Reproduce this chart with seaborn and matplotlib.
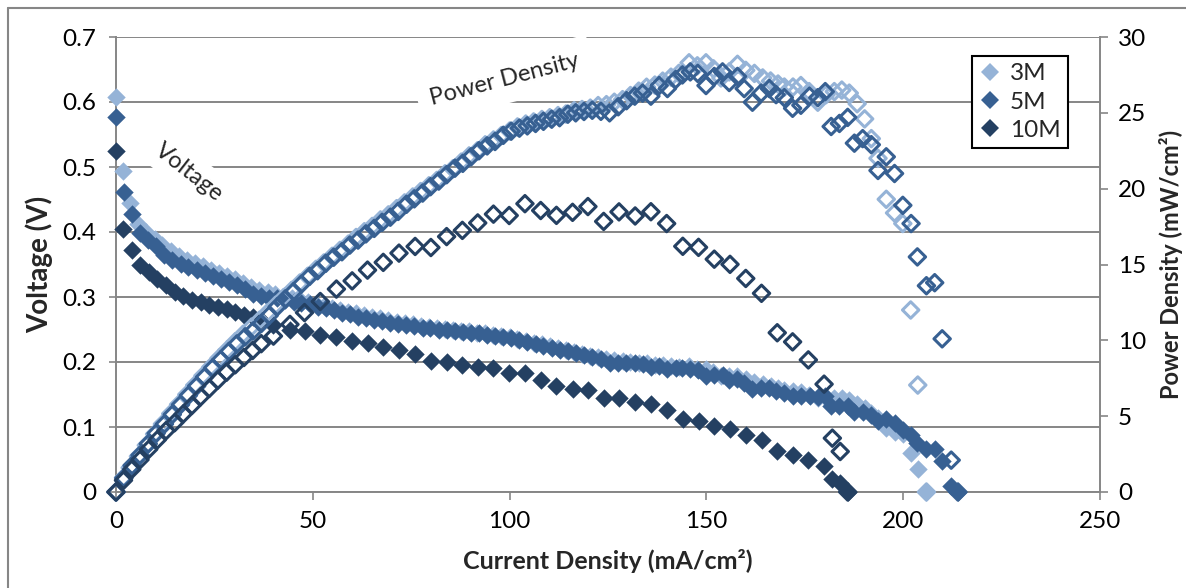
import numpy as np
import pandas as pd
import matplotlib
matplotlib.use("Agg")
import matplotlib.pyplot as plt
import seaborn as sns
from matplotlib.lines import Line2D

sns.set_theme(style="white")
plt.rcParams["font.family"] = ["Lato", "DejaVu Sans"]

# ---------------- data ----------------
series_names = ["3M", "5M", "10M"]

cur_3m = [0.0, 1.9, 3.6, 5.7, 7.7, 9.8, 11.8, 13.9, 15.9, 18.0, 20.0, 22.1, 24.1, 26.2, 28.2, 30.3, 32.3, 34.4,
          36.4, 38.5, 40.5, 42.6, 44.6, 46.7, 48.7, 50.8, 52.8, 54.9, 56.9, 59.0, 61.0, 63.1, 65.1, 67.2, 69.2,
          71.3, 73.3, 75.4, 77.4, 79.5, 81.5, 83.6, 85.6, 87.7, 89.7, 91.8, 93.8, 95.9, 97.9, 100.0, 102.0,
          104.1, 106.1, 108.2, 110.2, 112.3, 114.3, 116.4, 118.4, 120.5, 122.5, 124.6, 126.6, 128.7, 130.7,
          132.8, 134.8, 136.9, 138.9, 141.0, 143.0, 145.6, 147.7, 149.9, 151.8, 153.7, 155.8, 157.9, 160.0,
          162.2, 164.3, 166.3, 168.2, 169.8, 172.0, 174.0, 176.1, 178.3, 180.4, 182.5, 184.4, 186.3, 188.3,
          190.2, 191.9, 193.6, 195.7, 197.8, 199.9, 201.9, 203.7, 205.9]
volt_3m = [0.607, 0.494, 0.444, 0.412, 0.400, 0.390, 0.380, 0.371, 0.363, 0.357, 0.352, 0.347, 0.342, 0.337,
           0.332, 0.327, 0.322, 0.316, 0.311, 0.307, 0.304, 0.301, 0.298, 0.295, 0.292, 0.289, 0.286, 0.283,
           0.280, 0.277, 0.275, 0.272, 0.269, 0.267, 0.264, 0.262, 0.260, 0.258, 0.256, 0.254, 0.252, 0.251,
           0.249, 0.248, 0.247, 0.245, 0.244, 0.242, 0.240, 0.238, 0.236, 0.233, 0.230, 0.227, 0.224, 0.221,
           0.218, 0.216, 0.213, 0.210, 0.208, 0.205, 0.203, 0.201, 0.200, 0.199, 0.198, 0.196, 0.195, 0.194,
           0.193, 0.194, 0.190, 0.189, 0.184, 0.178, 0.178, 0.179, 0.174, 0.170, 0.166, 0.163, 0.160, 0.157,
           0.155, 0.154, 0.150, 0.144, 0.145, 0.145, 0.144, 0.141, 0.136, 0.129, 0.121, 0.114, 0.099, 0.093,
           0.089, 0.060, 0.035, 0.0]
pow_3m = [0.0, 0.94, 1.60, 2.35, 3.08, 3.82, 4.48, 5.16, 5.77, 6.43, 7.04, 7.67, 8.24, 8.83, 9.36, 9.91, 10.40,
          10.87, 11.32, 11.82, 12.31, 12.82, 13.29, 13.78, 14.22, 14.68, 15.10, 15.54, 15.93, 16.34, 16.78,
          17.16, 17.51, 17.94, 18.27, 18.68, 19.06, 19.45, 19.81, 20.19, 20.54, 20.98, 21.31, 21.75, 22.16,
          22.49, 22.89, 23.21, 23.50, 23.80, 24.07, 24.26, 24.40, 24.56, 24.68, 24.82, 24.92, 25.14, 25.22,
          25.31, 25.48, 25.54, 25.70, 25.87, 26.14, 26.43, 26.69, 26.83, 27.09, 27.35, 27.60, 28.3, 28.1, 28.3,
          27.9, 27.3, 27.7, 28.2, 27.8, 27.6, 27.3, 27.1, 26.9, 26.7, 26.7, 26.8, 26.4, 25.7, 26.2, 26.4, 26.5,
          26.3, 25.6, 24.6, 23.3, 22.0, 19.3, 18.4, 17.7, 12.0, 7.05, 0.0]

cur_5m = [0.0, 2.0, 4.1, 6.1, 8.2, 10.2, 12.3, 14.3, 16.4, 18.4, 20.5, 22.5, 24.6, 26.6, 28.7, 30.7, 32.8, 34.8,
          36.9, 38.9, 41.0, 43.0, 45.1, 47.1, 49.2, 51.2, 53.3, 55.3, 57.4, 59.4, 61.5, 63.5, 65.6, 67.6, 69.7,
          71.7, 73.8, 75.8, 77.9, 79.9, 82.0, 84.0, 86.1, 88.1, 90.2, 92.2, 94.3, 96.3, 98.4, 100.4, 102.5,
          104.5, 106.6, 108.6, 110.7, 112.7, 114.8, 116.8, 118.9, 121.0, 123.2, 125.4, 127.6, 129.7, 131.8,
          133.8, 135.9, 138.0, 140.1, 142.2, 143.9, 145.9, 147.8, 149.9, 152.0, 154.1, 155.8, 157.9, 159.6,
          161.7, 163.9, 166.0, 167.7, 169.8, 171.9, 174.0, 176.2, 178.3, 180.2, 181.7, 183.8, 185.9, 187.6,
          189.7, 191.9, 193.6, 195.7, 197.8, 199.9, 202.0, 203.6, 205.9, 208.0, 209.9, 212.2, 213.9]
volt_5m = [0.577, 0.462, 0.427, 0.399, 0.388, 0.379, 0.364, 0.357, 0.351, 0.346, 0.341, 0.337, 0.333, 0.328,
           0.323, 0.318, 0.312, 0.305, 0.301, 0.299, 0.298, 0.296, 0.293, 0.291, 0.289, 0.285, 0.283, 0.280,
           0.276, 0.274, 0.270, 0.268, 0.265, 0.263, 0.260, 0.258, 0.257, 0.255, 0.253, 0.252, 0.250, 0.249,
           0.248, 0.246, 0.245, 0.244, 0.242, 0.240, 0.239, 0.237, 0.234, 0.231, 0.228, 0.225, 0.222, 0.219,
           0.217, 0.214, 0.211, 0.208, 0.204, 0.199, 0.199, 0.199, 0.198, 0.197, 0.192, 0.194, 0.190, 0.191,
           0.191, 0.190, 0.187, 0.179, 0.180, 0.180, 0.173, 0.174, 0.167, 0.159, 0.160, 0.160, 0.156, 0.153,
           0.147, 0.147, 0.148, 0.146, 0.147, 0.133, 0.132, 0.133, 0.123, 0.123, 0.119, 0.110, 0.113, 0.106,
           0.095, 0.088, 0.076, 0.066, 0.066, 0.048, 0.010, 0.0]
pow_5m = [0.0, 0.92, 1.75, 2.43, 3.18, 3.87, 4.48, 5.11, 5.76, 6.37, 6.99, 7.58, 8.19, 8.72, 9.27, 9.76, 10.23,
          10.61, 11.11, 11.63, 12.22, 12.73, 13.21, 13.71, 14.22, 14.59, 15.08, 15.48, 15.84, 16.28, 16.61,
          17.02, 17.38, 17.78, 18.12, 18.50, 18.97, 19.33, 19.71, 20.13, 20.50, 20.92, 21.35, 21.67, 22.10,
          22.50, 22.82, 23.11, 23.52, 23.79, 23.99, 24.14, 24.30, 24.44, 24.58, 24.68, 24.91, 25.00, 25.09,
          25.17, 25.1, 25.0, 25.4, 25.8, 26.1, 26.3, 26.1, 26.8, 26.6, 27.2, 27.5, 27.7, 27.6, 26.8, 27.4, 27.7,
          27.0, 27.4, 26.6, 25.7, 26.3, 26.6, 26.2, 26.0, 25.3, 25.5, 26.1, 26.0, 26.4, 24.1, 24.3, 24.7, 23.0,
          23.3, 22.9, 21.2, 22.1, 21.0, 18.9, 17.7, 15.5, 13.6, 13.8, 10.1, 2.1, 0.0]

cur_10m = [0.0, 1.9, 4.0, 6.1, 8.3, 10.5, 12.7, 14.9, 17.1, 19.3, 21.5, 23.7, 25.9, 28.1, 30.3, 32.5, 34.7,
           36.9, 40.0, 44.2, 47.9, 51.9, 56.0, 60.0, 63.9, 67.9, 71.9, 76.0, 80.0, 84.0, 88.0, 91.9, 95.9, 99.9,
           103.9, 107.9, 111.9, 116.0, 119.9, 123.9, 127.8, 131.9, 135.9, 139.9, 144.0, 148.0, 152.0, 156.0,
           160.0, 164.0, 168.0, 171.9, 175.9, 179.9, 182.0, 184.0, 185.9]
volt_10m = [0.524, 0.404, 0.372, 0.349, 0.338, 0.328, 0.318, 0.307, 0.301, 0.296, 0.292, 0.288, 0.285, 0.281,
            0.277, 0.273, 0.269, 0.265, 0.257, 0.250, 0.247, 0.242, 0.239, 0.232, 0.229, 0.223, 0.219, 0.213,
            0.2015, 0.2005, 0.196, 0.193, 0.191, 0.1825, 0.183, 0.172, 0.163, 0.159, 0.157, 0.144, 0.1445,
            0.138, 0.136, 0.1265, 0.1125, 0.109, 0.101, 0.0962, 0.088, 0.0799, 0.0625, 0.0576, 0.0495, 0.0395,
            0.0195, 0.0145, 0.0]
pow_10m = [0.0, 0.77, 1.49, 2.13, 2.81, 3.44, 4.04, 4.57, 5.15, 5.71, 6.28, 6.83, 7.38, 7.90, 8.39, 8.87, 9.33,
           9.78, 10.28, 11.05, 11.83, 12.56, 13.38, 13.92, 14.63, 15.14, 15.75, 16.19, 16.12, 16.84, 17.25,
           17.74, 18.32, 18.23, 19.01, 18.56, 18.24, 18.44, 18.82, 17.84, 18.47, 18.20, 18.48, 17.70, 16.20,
           16.13, 15.35, 15.01, 14.08, 13.10, 10.50, 9.90, 8.71, 7.11, 3.55, 2.67, 0.0]

x_ticks = [0, 50, 100, 150, 200, 250]
y_ticks = [0, 0.1, 0.2, 0.3, 0.4, 0.5, 0.6, 0.7]
y_tick_labels = ["0", "0.1", "0.2", "0.3", "0.4", "0.5", "0.6", "0.7"]
y2_ticks = [0, 5, 10, 15, 20, 25, 30]

colors = {"3M": "#95B3D7", "5M": "#376092", "10M": "#244062"}

frames = []
for name, c, v, p in [("3M", cur_3m, volt_3m, pow_3m),
                      ("5M", cur_5m, volt_5m, pow_5m),
                      ("10M", cur_10m, volt_10m, pow_10m)]:
    frames.append(pd.DataFrame({"conc": name, "current": c, "voltage": v, "power": p}))
df = pd.concat(frames, ignore_index=True)

# ---------------- figure ----------------
W, H = 1186, 588
fig = plt.figure(figsize=(W / 100, H / 100), dpi=100)
fig.patch.set_facecolor("white")
ax = fig.add_axes([116 / W, 1 - 492 / H, 984 / W, 455 / H])
ax2 = ax.twinx()

grey = "#868686"
TICK_FS = 17.5

for name in series_names:
    sub = df[df["conc"] == name]
    sns.scatterplot(data=sub, x="current", y="voltage", ax=ax, color=colors[name], marker="D",
                    s=88, linewidth=0, clip_on=False, zorder=3, legend=False)

for name in series_names:
    sub = df[df["conc"] == name]
    sns.scatterplot(data=sub, x="current", y="power", ax=ax2, color=colors[name], marker="D",
                    s=70, facecolors="none", edgecolor=colors[name], linewidth=2.2,
                    clip_on=False, zorder=3, legend=False)

ax.set_xlim(0, 250)
ax.set_ylim(0, 0.7)
ax2.set_ylim(0, 30)
ax.set_xticks(x_ticks)
ax.set_yticks(y_ticks)
ax.set_yticklabels(y_tick_labels)
ax2.set_yticks(y2_ticks)

ax.yaxis.grid(True, color=grey, linewidth=1.4)
ax.xaxis.grid(False)
ax.set_axisbelow(True)

for side in ["top", "right"]:
    ax.spines[side].set_visible(False)
for side in ["left", "bottom"]:
    ax.spines[side].set_color(grey)
    ax.spines[side].set_linewidth(1.4)
for side in ["left", "top", "bottom"]:
    ax2.spines[side].set_visible(False)
ax2.spines["right"].set_color(grey)
ax2.spines["right"].set_linewidth(1.4)

ax.tick_params(axis="y", which="both", left=True, length=5, width=1.2, color=grey,
               labelsize=TICK_FS, pad=9, labelcolor="black")
ax.tick_params(axis="x", which="both", bottom=True, length=6, width=1.2, color=grey,
               labelsize=TICK_FS, pad=8, labelcolor="black")
ax2.tick_params(axis="y", right=True, length=6, width=1.2, color=grey,
                labelsize=TICK_FS, pad=7, labelcolor="black")

ax.set_xlabel("Current Density (mA/cm²)", fontsize=18, fontweight="bold", labelpad=12)
ax.set_ylabel("Voltage (V)", fontsize=20, fontweight="bold", labelpad=7)
ax2.set_ylabel("Power Density (mW/cm²)", fontsize=17, fontweight="bold", labelpad=9)

# in-plot annotations
ax.text(98.8, 0.634, "Power Density", fontsize=17, rotation=14.6, ha="center", va="center",
        bbox=dict(boxstyle="square,pad=0.55", fc="white", ec="none"), zorder=2)
ax.text(18.5, 0.492, "Voltage", fontsize=17, rotation=-38, ha="center", va="center",
        bbox=dict(boxstyle="square,pad=0.35", fc="white", ec="none"), zorder=2)

# legend
handles = [Line2D([], [], marker="D", linestyle="", color=colors[n], markersize=9.5,
                  markeredgewidth=0) for n in series_names]
leg = fig.legend(handles, series_names, loc="upper left", bbox_to_anchor=(972 / W, 1 - 56 / H),
                 frameon=True, fancybox=False, framealpha=1, edgecolor="black", fontsize=17.5,
                 handlelength=0.9, handletextpad=0.35, borderpad=0.3, labelspacing=0.3,
                 borderaxespad=0)
leg.get_frame().set_linewidth(1.5)

# outer chart border
fig.add_artist(Line2D([8 / W, 8 / W], [0, 1 - 8 / H], transform=fig.transFigure, color=grey, lw=1.5))
fig.add_artist(Line2D([8 / W, 1], [1 - 8 / H, 1 - 8 / H], transform=fig.transFigure, color=grey, lw=1.5))

fig.savefig("out.png", dpi=100, facecolor="white")
